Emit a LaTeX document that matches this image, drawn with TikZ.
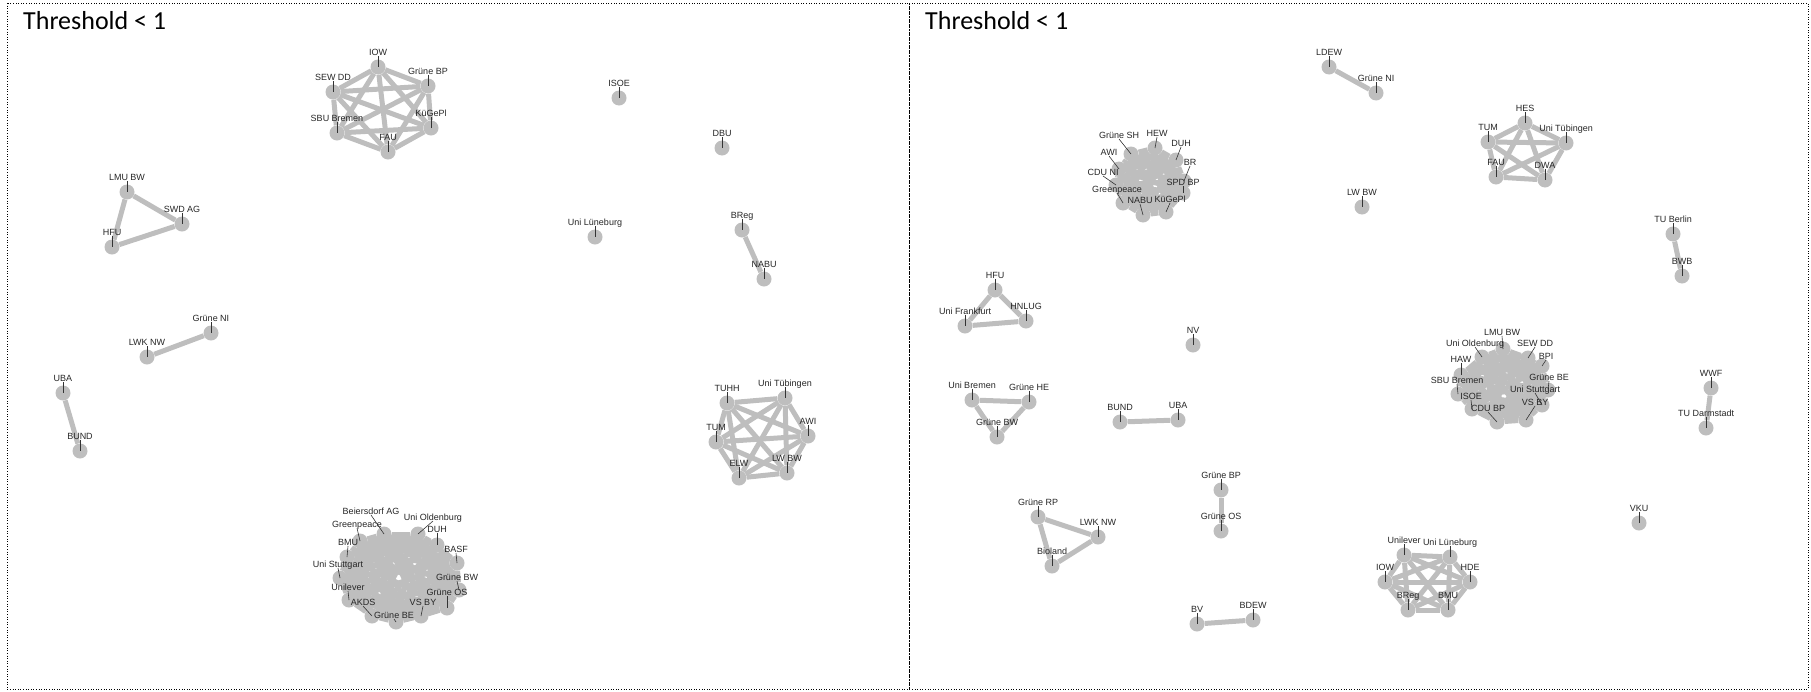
\documentclass[tikz,border=0pt]{standalone}
\usepackage{fontspec}
\usepackage{tikz}
\usetikzlibrary{positioning}

\newfontfamily\labelfont{Liberation Sans}
\newfontfamily\titlefont{Carlito}
\definecolor{nodegray}{RGB}{190,190,190}

% every pair of the listed nodes
\newcommand{\fullgraph}[1]{%
  \foreach \a [count=\i] in {#1}{%
    \foreach \b [count=\j] in {#1}{%
      \ifnum\j>\i\relax \draw[link] (\a) -- (\b);\fi
    }%
  }%
}

\begin{document}
\begin{tikzpicture}[
    x=1pt,
    y=-1pt
]

\tikzstyle{actor}=[
    circle,
    fill=nodegray,
    minimum size=15pt,
    inner sep=0pt
]
\tikzstyle{link}=[draw=nodegray, line width=5pt]
\tikzstyle{lbl}=[
    font=\labelfont\fontsize{9}{10}\selectfont,
    text=black!85,
    inner sep=0.5pt,
    text height=6.5pt,
    text depth=0pt
]
\tikzstyle{labeltick}=[draw=black!80, line width=0.6pt]
\tikzstyle{panel}=[draw=black, line width=0.6pt, dotted]
\tikzstyle{heading}=[
    anchor=base west,
    inner sep=0pt,
    font=\titlefont\fontsize{26}{30}\selectfont
]

\useasboundingbox (0,0) rectangle (1811,691);

\draw[panel] (7,3) rectangle (909,689);
\draw[panel] (909,3) rectangle (1808,689);
\node[heading] (ltitle) at (23,29) {Threshold < 1};
\node[heading] (rtitle) at (925,29) {Threshold < 1};

% left panel
\node[actor] (lIOW) at (378,67) {};
\node[actor] (lGBP) at (428,86) {};
\node[actor] (lSEW) at (333,92) {};
\node[actor] (lKue) at (431,128) {};
\node[actor] (lSBU) at (337,133) {};
\node[actor] (lFAU) at (388,152) {};

\node[actor] (lLMU) at (127,192) {};
\node[actor] (lSWD) at (182,224) {};
\node[actor] (lHFU) at (112,247) {};
\node[actor] (lGNI) at (211,333) {};
\node[actor] (lLWK) at (147,357) {};
\node[actor] (lUBA) at (63,393) {};
\node[actor] (lBUND) at (80,451) {};

\node[actor] (lISOE) at (619,98) {};
\node[actor] (lDBU) at (722,148) {};
\node[actor] (lULue) at (595,237) {};
\node[actor] (lBReg) at (742,230) {};
\node[actor] (lNABU) at (764,279) {};

\node[actor] (lTUHH) at (727,403) {};
\node[actor] (lUTue) at (785,398) {};
\node[actor] (lAWI) at (808,436) {};
\node[actor] (lTUM) at (716,442) {};
\node[actor] (lELW) at (739,478) {};
\node[actor] (lLWBW) at (787,473) {};

\node[actor] (lBei) at (384,534) {};
\node[actor] (lUOl) at (418,534) {};
\node[actor] (lGre) at (360,541) {};
\node[actor] (lDUH) at (437,545) {};
\node[actor] (lBMU) at (347,557) {};
\node[actor] (lBASF) at (457,563) {};
\node[actor] (lUSt) at (340,578) {};
\node[actor] (lGBW) at (459,590) {};
\node[actor] (lUnil) at (349,600) {};
\node[actor] (lGOS) at (447,608) {};
\node[actor] (lAKDS) at (372,616) {};
\node[actor] (lVSBY) at (421,616) {};
\node[actor] (lGBE) at (396,622) {};

% right panel
\node[actor] (rLDEW) at (1329,67) {};
\node[actor] (rGNI) at (1376,93) {};
\node[actor] (rHES) at (1525,123) {};
\node[actor] (rTUM) at (1488,142) {};
\node[actor] (rUTue) at (1566,143) {};
\node[actor] (rFAU) at (1496,177) {};
\node[actor] (rDWA) at (1545,180) {};
\node[actor] (rLWBW) at (1362,207) {};
\node[actor] (rTUB) at (1673,234) {};
\node[actor] (rBWB) at (1682,276) {};

\node[actor] (rGSH) at (1131,154) {};
\node[actor] (rHEW) at (1155,148) {};
\node[actor] (rDUH) at (1176,160) {};
\node[actor] (rAWI) at (1119,169) {};
\node[actor] (rBR) at (1184,181) {};
\node[actor] (rCDU) at (1116,185) {};
\node[actor] (rSPD) at (1183,193) {};
\node[actor] (rGre) at (1123,203) {};
\node[actor] (rNABU) at (1143,215) {};
\node[actor] (rKue) at (1166,212) {};

\node[actor] (rHFU) at (995,290) {};
\node[actor] (rUFra) at (965,326) {};
\node[actor] (rHNLUG) at (1026,321) {};
\node[actor] (rNV) at (1193,345) {};
\node[actor] (rUBre) at (972,400) {};
\node[actor] (rGHE) at (1029,402) {};
\node[actor] (rGBW) at (997,437) {};
\node[actor] (rBUND) at (1120,422) {};
\node[actor] (rUBA) at (1178,420) {};
\node[actor] (rGBP) at (1221,490) {};
\node[actor] (rGOS) at (1221,531) {};
\node[actor] (rGRP) at (1038,517) {};
\node[actor] (rLWK) at (1098,537) {};
\node[actor] (rBio) at (1052,566) {};
\node[actor] (rBV) at (1197,624) {};
\node[actor] (rBDEW) at (1253,620) {};

\node[actor] (rLMU) at (1503,349) {};
\node[actor] (rUOl) at (1482,357) {};
\node[actor] (rSEW) at (1528,358) {};
\node[actor] (rHAW) at (1461,375) {};
\node[actor] (rBPI) at (1542,366) {};
\node[actor] (rSBU) at (1458,394) {};
\node[actor] (rGBE) at (1548,390) {};
\node[actor] (rUSt) at (1542,405) {};
\node[actor] (rISOE) at (1472,409) {};
\node[actor] (rVSBY) at (1526,420) {};
\node[actor] (rCDUBP) at (1497,422) {};

\node[actor] (rWWF) at (1711,388) {};
\node[actor] (rTUD) at (1706,428) {};
\node[actor] (rVKU) at (1639,523) {};

\node[actor] (rUnil) at (1404,555) {};
\node[actor] (rULue) at (1450,557) {};
\node[actor] (rIOW) at (1385,582) {};
\node[actor] (rHDE) at (1470,582) {};
\node[actor] (rBReg) at (1408,610) {};
\node[actor] (rBMU) at (1448,610) {};

% edges
\fullgraph{lIOW,lGBP,lSEW,lKue,lSBU,lFAU}
\fullgraph{lLMU,lSWD,lHFU}
\draw[link] (lLWK) -- (lGNI);
\draw[link] (lUBA) -- (lBUND);
\draw[link] (lBReg) -- (lNABU);
\fullgraph{lTUHH,lUTue,lAWI,lTUM,lELW,lLWBW}
\fullgraph{lBei,lUOl,lGre,lDUH,lBMU,lBASF,lUSt,lGBW,lUnil,lGOS,lAKDS,lVSBY,lGBE}

\draw[link] (rLDEW) -- (rGNI);
\fullgraph{rGSH,rHEW,rDUH,rAWI,rBR,rCDU,rSPD,rGre,rNABU,rKue}
\fullgraph{rHES,rTUM,rUTue,rFAU,rDWA}
\draw[link] (rTUB) -- (rBWB);
\fullgraph{rHFU,rUFra,rHNLUG}
\fullgraph{rLMU,rUOl,rSEW,rHAW,rBPI,rSBU,rGBE,rUSt,rISOE,rVSBY,rCDUBP}
\draw[link] (rWWF) -- (rTUD);
\fullgraph{rUBre,rGHE,rGBW}
\draw[link] (rBUND) -- (rUBA);
\draw[link] (rGBP) -- (rGOS);
\fullgraph{rGRP,rLWK,rBio}
\fullgraph{rUnil,rULue,rIOW,rHDE,rBReg,rBMU}
\draw[link] (rBV) -- (rBDEW);

% labels straight above
\foreach \n/\t in {lIOW/IOW, lGBP/Grüne BP, lSEW/SEW DD, lKue/KüGePl,
    lSBU/SBU Bremen, lFAU/FAU, lLMU/LMU BW, lSWD/SWD AG, lHFU/HFU,
    lGNI/Grüne NI, lLWK/LWK NW, lUBA/UBA, lBUND/BUND, lISOE/ISOE,
    lDBU/DBU, lULue/Uni Lüneburg, lBReg/BReg, lNABU/NABU, lTUHH/TUHH,
    lUTue/Uni Tübingen, lAWI/AWI, lTUM/TUM, lELW/ELW, lLWBW/LW BW,
    rLDEW/LDEW, rGNI/Grüne NI, rHES/HES, rTUM/TUM, rUTue/Uni Tübingen,
    rFAU/FAU, rDWA/DWA, rLWBW/LW BW, rTUB/TU Berlin, rBWB/BWB,
    rHFU/HFU, rUFra/Uni Frankfurt, rHNLUG/HNLUG, rNV/NV, rUBre/Uni Bremen,
    rGHE/Grüne HE, rGBW/Grüne BW, rBUND/BUND, rUBA/UBA, rGBP/Grüne BP,
    rGOS/Grüne OS, rGRP/Grüne RP, rLWK/LWK NW, rBio/Bioland, rBV/BV,
    rBDEW/BDEW, rWWF/WWF, rTUD/TU Darmstadt, rVKU/VKU, rUnil/Unilever,
    rULue/Uni Lüneburg, rIOW/IOW, rHDE/HDE, rBReg/BReg, rBMU/BMU}{
  \node[lbl, above=11pt of \n.center] (\n-t) {\t};
  \draw[labeltick] (\n-t.south) -- (\n.center);
}

% labels pushed aside in the dense groups
\foreach \n/\t/\px/\py in {lBei/Beiersdorf AG/371/515, lUOl/Uni Oldenburg/433/521,
    lGre/Greenpeace/357/528, lDUH/DUH/437/533, lBMU/BMU/348/546,
    lBASF/BASF/456/553, lUSt/Uni Stuttgart/338/568, lGBW/Grüne BW/457/581,
    lUnil/Unilever/348/591, lGOS/Grüne OS/447/596, lAKDS/AKDS/363/606,
    lVSBY/VS BY/423/606, lGBE/Grüne BE/394/619,
    rGSH/Grüne SH/1119/139, rHEW/HEW/1157/137, rDUH/DUH/1181/147,
    rAWI/AWI/1109/156, rBR/BR/1190/166, rCDU/CDU NI/1103/176,
    rSPD/SPD BP/1183/186, rGre/Greenpeace/1117/193, rNABU/NABU/1140/204,
    rKue/KüGePl/1170/203,
    rLMU/LMU BW/1502/336, rUOl/Uni Oldenburg/1475/347, rSEW/SEW DD/1535/347,
    rHAW/HAW/1461/363, rBPI/BPI/1546/360, rSBU/SBU Bremen/1457/384,
    rGBE/Grüne BE/1549/381, rUSt/Uni Stuttgart/1535/393, rISOE/ISOE/1471/400,
    rVSBY/VS BY/1535/406, rCDUBP/CDU BP/1488/412}{
  \node[lbl, anchor=south] (\n-t) at (\px,\py) {\t};
  \draw[labeltick] (\n-t.south) -- (\n.center);
}

\end{tikzpicture}
\end{document}
